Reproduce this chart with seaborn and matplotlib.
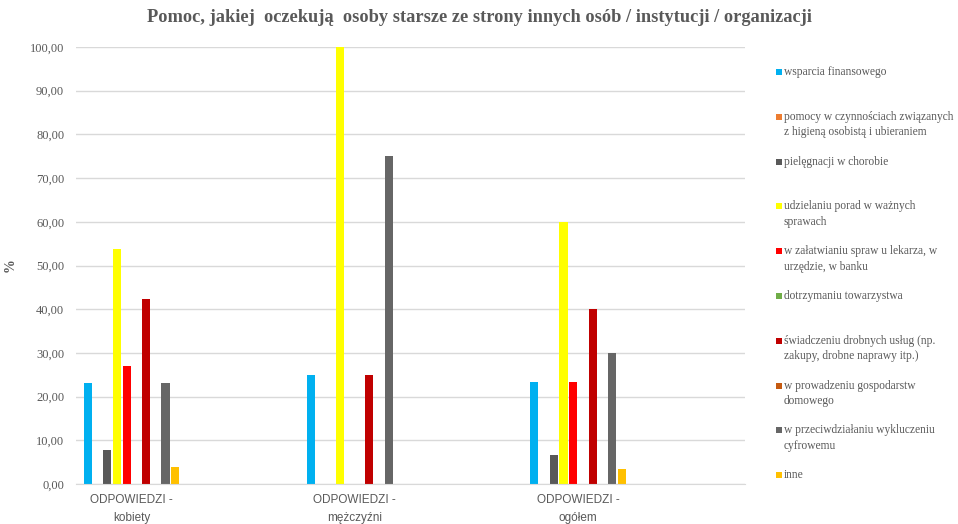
import pandas as pd
import matplotlib.pyplot as plt
import seaborn as sns
from matplotlib.patches import Rectangle

# kategorie na osi X
kategorie = ['ODPOWIEDZI -\nkobiety', 'ODPOWIEDZI -\nmężczyźni', 'ODPOWIEDZI -\nogółem']

# rodzaje pomocy (seria danych)
serie = [
    'wsparcia finansowego',
    'pomocy w czynnościach związanych\nz higieną osobistą i ubieraniem',
    'pielęgnacji w chorobie',
    'udzielaniu porad w ważnych\nsprawach',
    'w załatwianiu spraw u lekarza, w\nurzędzie, w banku',
    'dotrzymaniu towarzystwa',
    'świadczeniu drobnych usług (np.\nzakupy, drobne naprawy itp.)',
    'w prowadzeniu gospodarstw\ndomowego',
    'w przeciwdziałaniu wykluczeniu\ncyfrowemu',
    'inne',
]
kolory = ['#00B0F0', '#ED7D31', '#595959', '#FFFF00', '#FF0000',
          '#70AD47', '#C00000', '#C55A11', '#666666', '#FFC000']

# wartości w % (kolejność jak w serie)
kobiety = [23.08, 0, 7.69, 53.85, 26.92, 0, 42.31, 0, 23.08, 3.85]
mezczyzni = [25.00, 0, 0, 100.00, 0, 0, 25.00, 0, 75.00, 0]
ogolem = [23.33, 0, 6.67, 60.00, 23.33, 0, 40.00, 0, 30.00, 3.33]

tytul = 'Pomoc, jakiej  oczekują  osoby starsze ze strony innych osób / instytucji / organizacji'

rows = []
for kat, vals in zip(kategorie, [kobiety, mezczyzni, ogolem]):
    for s, v in zip(serie, vals):
        rows.append({'kategoria': kat, 'seria': s, 'wartosc': v})
df = pd.DataFrame(rows)

W, H = 958, 524
fig = plt.figure(figsize=(W / 100, H / 100), dpi=100)
ax = fig.add_axes([76 / W, 1 - 484 / H, (745 - 76) / W, (484 - 47) / H])

sns.barplot(data=df, x='kategoria', y='wartosc', hue='seria',
            order=kategorie, hue_order=serie, palette=kolory, saturation=1,
            width=0.434, gap=0.17, errorbar=None, linewidth=0,
            legend=False, ax=ax)

szary = '#595959'
ax.set_ylim(0, 100)
ax.set_xlim(-0.249, 2.748)
ax.set_yticks(range(0, 101, 10))
ax.set_yticklabels([f'{v:.2f}'.replace('.', ',') for v in range(0, 101, 10)],
                   fontfamily='Liberation Serif', fontsize=9, color=szary)
ax.set_xticks(range(3))
ax.set_xticklabels(kategorie, fontfamily='Liberation Sans', fontsize=8.5,
                   color=szary, linespacing=1.7)
ax.tick_params(axis='y', length=0, pad=8.5)
ax.tick_params(axis='x', length=0, pad=7)
ax.grid(axis='y', color='#D9D9D9', linewidth=1)
ax.set_axisbelow(True)
for sp in ['top', 'right', 'left']:
    ax.spines[sp].set_visible(False)
ax.spines['bottom'].set_color('#D9D9D9')
ax.set_xlabel('')
ax.set_ylabel('%', fontfamily='Liberation Serif', fontweight='bold',
              fontsize=10, color=szary)
ax.yaxis.set_label_coords((17 - 76) / 669, 0.5)

fig.text(0.5, 1 - 17 / H, tytul, ha='center', va='center',
         fontfamily='Liberation Serif', fontweight='bold', fontsize=13.2, color=szary)

# legenda po prawej stronie
for i, (s, c) in enumerate(zip(serie, kolory)):
    yc = 72 + i * 44.8
    fig.add_artist(Rectangle((776 / W, 1 - (yc + 3) / H), 6 / W, 6 / H,
                             transform=fig.transFigure, color=c, lw=0))
    fig.text(784 / W, 1 - (yc - 6) / H, s, ha='left', va='top',
             fontfamily='Liberation Serif', fontsize=8.3, color=szary,
             linespacing=1.4)

fig.savefig('out.png', dpi=100)
